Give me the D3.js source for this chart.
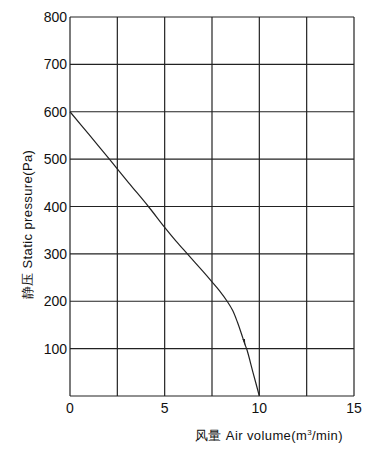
<!DOCTYPE html>
<html>
<head>
    <script src="https://d3js.org/d3.v7.min.js" charset="utf-8"></script>
    <style>
        body { margin: 0; background: #fff; }
        text { font-family: "Liberation Sans", Arial, sans-serif; fill: #111; }
    </style>
</head>
<body>
<script>
    // air volume (m3/min) vs static pressure (Pa)
    const airVolume = [0, 1.0, 2.08, 3.1, 4.14, 5.0, 5.6, 6.2, 7.0, 7.5, 7.9, 8.3, 8.6, 8.85, 9.05, 9.23, 9.35, 9.67, 10.0];
    const pressure  = [600, 552, 500, 450, 400, 356, 327, 300, 264, 241, 222, 200, 180, 155, 132, 110, 97, 49, 0];
    const xTicks = [0, 5, 10, 15];
    const xGrid = [0, 2.5, 5, 7.5, 10, 12.5, 15];
    const yTicks = [100, 200, 300, 400, 500, 600, 700, 800];
    const yGrid = [0, 100, 200, 300, 400, 500, 600, 700, 800];

    const W = 391, H = 457;
    const m = { left: 70, top: 17, right: 37, bottom: 61 };

    const svg = d3.select("body").append("svg")
        .attr("width", W).attr("height", H);

    const x = d3.scaleLinear().domain([0, 15]).range([m.left, W - m.right]);
    const y = d3.scaleLinear().domain([0, 800]).range([H - m.bottom, m.top]);

    // grid
    svg.selectAll("line.vg").data(xGrid).enter().append("line")
        .attr("class", "vg")
        .attr("x1", d => x(d)).attr("x2", d => x(d))
        .attr("y1", y(0)).attr("y2", y(800))
        .attr("stroke", "#222").attr("stroke-width", 1.2);

    svg.selectAll("line.hg").data(yGrid).enter().append("line")
        .attr("class", "hg")
        .attr("x1", x(0)).attr("x2", x(15))
        .attr("y1", d => y(d)).attr("y2", d => y(d))
        .attr("stroke", "#222").attr("stroke-width", 1.2);

    // tick labels
    svg.selectAll("text.yt").data(yTicks).enter().append("text")
        .attr("class", "yt")
        .attr("x", m.left - 3).attr("y", d => y(d) + 5)
        .attr("text-anchor", "end")
        .style("font-size", "14px")
        .text(d => d);

    svg.selectAll("text.xt").data(xTicks).enter().append("text")
        .attr("class", "xt")
        .attr("x", d => x(d)).attr("y", y(0) + 17)
        .attr("text-anchor", "middle")
        .style("font-size", "14px")
        .text(d => d);

    // curve
    const pts = airVolume.map((v, i) => [v, pressure[i]]);
    const line = d3.line().x(d => x(d[0])).y(d => y(d[1])).curve(d3.curveCatmullRom.alpha(0.5));
    svg.append("path")
        .attr("d", line(pts))
        .attr("fill", "none")
        .attr("stroke", "#222")
        .attr("stroke-width", 1.2);

    // small arrow head on the steep part
    const ax = x(9.24), ay = y(110);
    svg.append("path")
        .attr("d", `M${ax - 2.5},${ay - 5} L${ax},${ay - 5} L${ax + 0.5},${ay + 2} Z`)
        .attr("fill", "#222");

    // axis titles
    svg.append("text")
        .attr("transform", `translate(32,${(y(0) + y(800)) / 2 + 18}) rotate(-90)`)
        .attr("text-anchor", "middle")
        .style("font-size", "13px")
        .style("letter-spacing", "0.4px")
        .text("静压 Static pressure(Pa)");

    svg.append("text")
        .attr("x", 269).attr("y", 440)
        .attr("text-anchor", "middle")
        .style("font-size", "13px")
        .style("letter-spacing", "0.4px")
        .html("风量 Air volume(m<tspan dy='-5' font-size='8px'>3</tspan><tspan dy='5'>/min)</tspan>");
</script>
</body>
</html>
